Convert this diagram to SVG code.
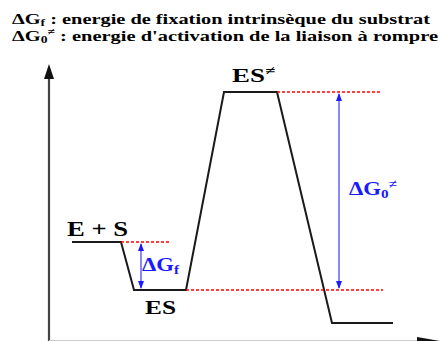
<svg xmlns="http://www.w3.org/2000/svg" width="440" height="341" viewBox="0 0 440 341">
<style>
text{font-family:'Liberation Serif','DejaVu Serif','Times New Roman',serif;font-weight:bold;fill:#000}
.b{fill:#1a1aff}
.red{stroke:#ff0000;stroke-width:1.5;stroke-dasharray:3 2;fill:none}
.blue{stroke:#3a3aff;stroke-width:1.2;fill:none}
.curve{stroke:#1a1a1a;stroke-width:2;fill:none;stroke-linejoin:miter}
</style>
<defs>
<marker id="ba" viewBox="0 0 8 8" refX="7" refY="4" markerWidth="8" markerHeight="8" markerUnits="userSpaceOnUse" orient="auto-start-reverse">
<path d="M0,1 L8,4 L0,7 Z" fill="#1a1aff"/>
</marker>
</defs>
<rect width="440" height="341" fill="#fff"/>
<g id="legend">
<text x="12" y="24" font-size="15" textLength="418" lengthAdjust="spacingAndGlyphs">ΔG<tspan font-size="10" dy="2">f</tspan><tspan dy="-2"> : energie de fixation intrinsèque du substrat</tspan></text>
<text x="12" y="41" font-size="15" textLength="426" lengthAdjust="spacingAndGlyphs">ΔG<tspan font-size="10" dy="2">0</tspan><tspan font-size="10" dy="-8">≠</tspan><tspan dy="6"> : energie d'activation de la liaison à rompre</tspan></text>
</g>
<g id="axes">
<line x1="49" y1="78" x2="49" y2="341" stroke="#444" stroke-width="2.2"/>
<path d="M49,64 L44,79 L54,79 Z" fill="#111"/>
<line x1="49" y1="340.5" x2="420" y2="340.5" stroke="#ccc" stroke-width="1"/>
<path d="M417,337 L440,341 L417,341 Z" fill="#111"/>
</g>
<g id="connectors">
<path class="curve" d="M72,242 L121,242 L134,290 L186,290 L224,92 L277,92 L332,323 L393,323"/>
<line class="red" x1="121" y1="242" x2="170" y2="242"/>
<line class="red" x1="186" y1="290" x2="383" y2="290"/>
<line class="red" x1="277" y1="92" x2="382" y2="92"/>
<line class="blue" x1="141" y1="244" x2="141" y2="288" marker-start="url(#ba)" marker-end="url(#ba)"/>
<line class="blue" x1="339" y1="94" x2="339" y2="288" marker-start="url(#ba)" marker-end="url(#ba)"/>
</g>
<g id="node-ES-plus-S"><text x="67" y="236" font-size="20" textLength="61" lengthAdjust="spacingAndGlyphs">E + S</text></g>
<g id="node-ES"><text x="145" y="314" font-size="19" textLength="31" lengthAdjust="spacingAndGlyphs">ES</text></g>
<g id="node-ES-TS"><text x="232" y="82" font-size="19" textLength="43" lengthAdjust="spacingAndGlyphs">ES<tspan font-size="13" dy="-7">≠</tspan></text></g>
<g id="label-dGf"><text class="b" x="142" y="271" font-size="18" textLength="37" lengthAdjust="spacingAndGlyphs">ΔG<tspan font-size="12" dy="3">f</tspan></text></g>
<g id="label-dG0"><text class="b" x="349" y="195" font-size="18" textLength="48" lengthAdjust="spacingAndGlyphs">ΔG<tspan font-size="12" dy="3">0</tspan><tspan font-size="12" dy="-10">≠</tspan></text></g>
</svg>
